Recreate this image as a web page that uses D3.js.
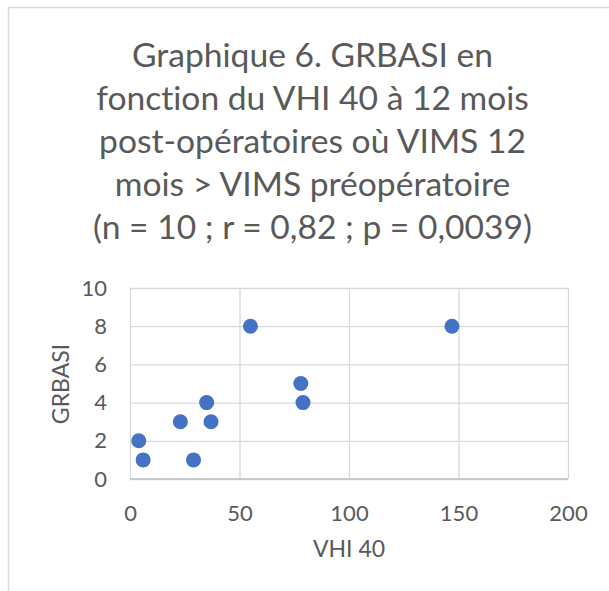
<!DOCTYPE html>
<html>
<head>
<meta charset="utf-8">
<script src="https://cdn.jsdelivr.net/npm/d3@7"></script>
<style>
  html, body { margin: 0; padding: 0; background: #fff; }
  svg { display: block; font-family: Lato, "Open Sans", sans-serif; font-variant-ligatures: none; }
</style>
</head>
<body>
<svg id="chart" width="609" height="591"></svg>
<script>
// données
const titleLines = [
    "Graphique 6. GRBASI en",
    "fonction du VHI 40 à 12 mois",
    "post-opératoires où VIMS 12",
    "mois > VIMS préopératoire",
    "(n = 10 ; r = 0,82 ; p = 0,0039)"
];
const vhi40 = [4, 6, 23, 29, 35, 37, 55, 78, 79, 147];
const grbasi = [2, 1, 3, 1, 4, 3, 8, 5, 4, 8];
const xTicks = [0, 50, 100, 150, 200];
const yTicks = [0, 2, 4, 6, 8, 10];
const xLabel = "VHI 40";
const yLabel = "GRBASI";

const textColor = "#595959";
const gridColor = "#d9d9d9";
const dotColor = "#4472c4";

let svg = d3.select("#chart");

// cadre du graphique
svg.append("rect")
    .attr("x", 8.5)
    .attr("y", 7.5)
    .attr("width", 640)
    .attr("height", 640)
    .attr("fill", "#fff")
    .attr("stroke", gridColor)
    .attr("stroke-width", 1.5);

// titre, taille ajustée sur la ligne la plus large
let title = svg.append("g")
    .attr("fill", textColor)
    .attr("text-anchor", "middle");

let titleText = title.selectAll("text")
    .data(titleLines)
    .enter()
    .append("text")
    .attr("x", 312.5)
    .attr("y", (d, i) => 67 + i * 42.9)
    .attr("font-size", 34)
    .text(d => d);

let widest = d3.max(titleText.nodes(), n => n.getComputedTextLength());
titleText.attr("font-size", 34 * 439 / widest);

// échelles
let x = d3.scaleLinear().domain([0, 200]).range([130, 568]);
let y = d3.scaleLinear().domain([0, 10]).range([479, 288]);

// grille verticale
let gx = svg.append("g")
    .attr("transform", "translate(0," + y(0) + ")")
    .call(d3.axisBottom(x)
        .tickValues(xTicks)
        .tickSize(-(y(0) - y(10)))
        .tickPadding(26));

// grille horizontale
let gy = svg.append("g")
    .attr("transform", "translate(" + x(0) + ",0)")
    .call(d3.axisLeft(y)
        .tickValues(yTicks)
        .tickSize(-(x(200) - x(0)))
        .tickPadding(23));

[gx, gy].forEach(g => {
    g.select(".domain").remove();
    g.selectAll(".tick line")
        .attr("stroke", gridColor)
        .attr("stroke-width", 1.3);
    g.selectAll(".tick text")
        .attr("fill", textColor)
        .attr("font-size", 22)
        .attr("font-family", "Lato, 'Open Sans', sans-serif");
});

// axe horizontal un peu plus foncé
svg.append("line")
    .attr("x1", x(0))
    .attr("x2", x(200))
    .attr("y1", y(0))
    .attr("y2", y(0))
    .attr("stroke", "#bfbfbf")
    .attr("stroke-width", 1.3);

// points
svg.append("g")
    .selectAll("circle")
    .data(vhi40)
    .enter()
    .append("circle")
    .attr("cx", d => x(d))
    .attr("cy", (d, i) => y(grbasi[i]))
    .attr("r", 7.5)
    .attr("fill", dotColor);

// titres des axes
svg.append("text")
    .attr("x", 349)
    .attr("y", 557)
    .attr("text-anchor", "middle")
    .attr("fill", textColor)
    .attr("font-size", 23)
    .text(xLabel);

svg.append("text")
    .attr("transform", "translate(69,384) rotate(-90)")
    .attr("text-anchor", "middle")
    .attr("fill", textColor)
    .attr("font-size", 23)
    .text(yLabel);
</script>
</body>
</html>
